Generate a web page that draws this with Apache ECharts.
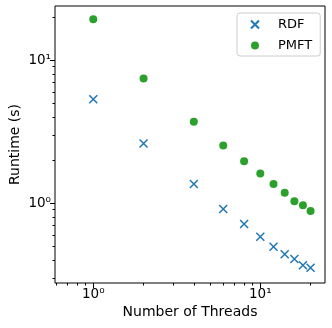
<!DOCTYPE html>
<html>
<head>
<meta charset="utf-8">
<script src="https://cdn.jsdelivr.net/npm/echarts@6/dist/echarts.min.js"></script>
<style>
  html, body { margin: 0; padding: 0; background: #fff; }
  #chart { width: 332px; height: 328px; }
</style>
</head>
<body>
<div id="chart"></div>
<script>
var threads = [1, 2, 4, 6, 8, 10, 12, 14, 16, 18, 20]
var rdfTimes = [5.33, 2.61, 1.36, 0.91, 0.713, 0.581, 0.495, 0.438, 0.406, 0.367, 0.353]
var pmftTimes = [19.3, 7.45, 3.70, 2.53, 1.96, 1.61, 1.36, 1.18, 1.03, 0.964, 0.88]
var xMajorTicks = [1, 10]
var xMinorTicks = [0.6, 0.7, 0.8, 0.9, 2, 3, 4, 5, 6, 7, 8, 9, 20]
var yMajorTicks = [1, 10]
var yMinorTicks = [0.3, 0.4, 0.5, 0.6, 0.7, 0.8, 0.9, 2, 3, 4, 5, 6, 7, 8, 9, 20]

var font = 'DejaVu Sans'
var axisColor = '#000'

function pow10Label(v) {
  var e = Math.round(Math.log10(v))
  var sup = { '0': '\u2070', '1': '\u00b9', '2': '\u00b2' }
  return '10' + (sup[String(e)] || e)
}

function pairs(xs, ys) {
  return xs.map(function (x, i) { return [x, ys[i]] })
}

var chart = echarts.init(document.getElementById('chart'))
chart.setOption({
  animation: false,
  textStyle: { fontFamily: font },
  grid: {
    left: 55, right: 7, top: 6, bottom: 45,
    outerBoundsMode: 'none',
    show: true, borderColor: axisColor, borderWidth: 1
  },
  legend: {
    orient: 'vertical',
    left: 237,
    top: 13,
    padding: [5, 8, 4, 13],
    itemWidth: 8,
    itemHeight: 8,
    itemGap: 8,
    borderColor: '#ccc',
    borderWidth: 1,
    borderRadius: 3,
    backgroundColor: 'rgba(255,255,255,0.8)',
    textStyle: { fontSize: 13, color: '#000', padding: [0, 0, 0, 14] },
    data: ['RDF', 'PMFT']
  },
  xAxis: [
    {
      type: 'log', logBase: 10, min: 0.59, max: 24.4,
      name: 'Number of Threads', nameLocation: 'middle', nameGap: 22,
      nameMoveOverlap: false,
      nameTextStyle: { fontSize: 14, color: '#000' },
      axisLine: { show: false },
      splitLine: { show: false },
      axisTick: { customValues: xMajorTicks, length: 5, lineStyle: { color: axisColor } },
      axisLabel: { customValues: xMajorTicks, formatter: pow10Label, fontSize: 13.5, color: '#000', margin: 4 }
    },
    {
      type: 'log', logBase: 10, min: 0.59, max: 24.4, position: 'bottom',
      axisLine: { show: false },
      splitLine: { show: false },
      axisTick: { customValues: xMinorTicks, length: 2.5, lineStyle: { color: axisColor } },
      axisLabel: { show: false }
    }
  ],
  yAxis: [
    {
      type: 'log', logBase: 10, min: 0.276, max: 23.9,
      name: 'Runtime (s)', nameLocation: 'middle', nameGap: 33,
      nameMoveOverlap: false,
      nameTextStyle: { fontSize: 14, color: '#000' },
      axisLine: { show: false },
      splitLine: { show: false },
      axisTick: { customValues: yMajorTicks, length: 5, lineStyle: { color: axisColor } },
      axisLabel: { customValues: yMajorTicks, formatter: pow10Label, fontSize: 13.5, color: '#000', margin: 4 }
    },
    {
      type: 'log', logBase: 10, min: 0.276, max: 23.9, position: 'left',
      axisLine: { show: false },
      splitLine: { show: false },
      axisTick: { customValues: yMinorTicks, length: 2.5, lineStyle: { color: axisColor } },
      axisLabel: { show: false }
    }
  ],
  series: [
    {
      name: 'RDF',
      type: 'scatter',
      symbol: 'path://M0,0L10,10M10,0L0,10',
      symbolSize: 8,
      itemStyle: { color: 'rgba(0,0,0,0)', borderColor: '#1f77b4', borderWidth: 1.5, opacity: 1 },
      data: pairs(threads, rdfTimes)
    },
    {
      name: 'PMFT',
      type: 'scatter',
      symbol: 'circle',
      symbolSize: 8,
      itemStyle: { color: '#2ca02c', opacity: 1 },
      data: pairs(threads, pmftTimes)
    }
  ]
})
</script>
</body>
</html>
